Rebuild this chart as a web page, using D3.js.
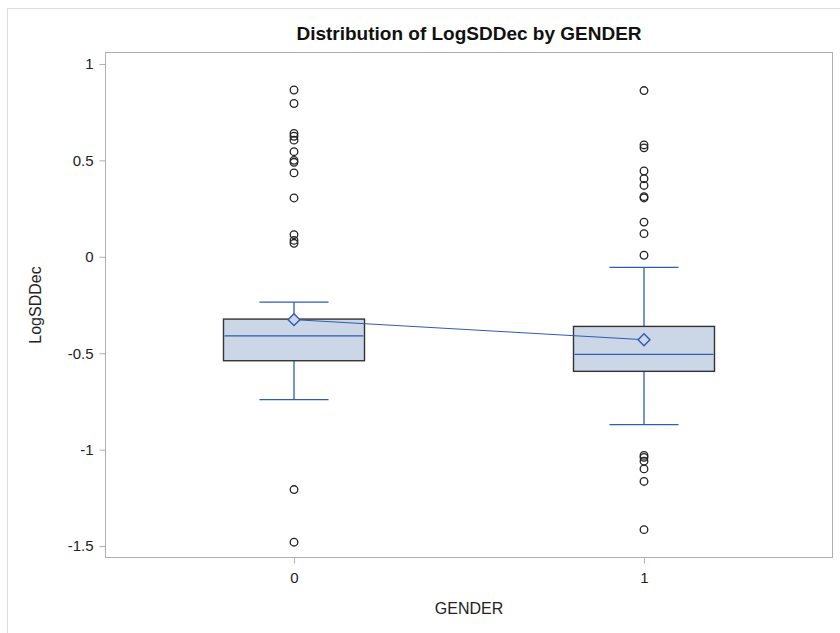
<!DOCTYPE html>
<html><head><meta charset="utf-8">
<script src="https://cdn.jsdelivr.net/npm/d3@7"></script>
<style>body{margin:0;background:#fff}svg{display:block}text{font-family:"Liberation Sans",Arial,sans-serif}</style>
</head><body><svg id="c" width="840" height="633"></svg>
<script>
const categories = ["0", "1"];
const q1 = [-0.539, -0.594];
const median = [-0.41, -0.506];
const q3 = [-0.323, -0.361];
const whiskerLow = [-0.741, -0.87];
const whiskerHigh = [-0.235, -0.055];
const means = [-0.326, -0.43];
const outliers0 = [0.865, 0.795, 0.64, 0.625, 0.605, 0.545, 0.50, 0.49, 0.435, 0.305, 0.115, 0.085, 0.07, -1.207, -1.48];
const outliers1 = [0.862, 0.58, 0.565, 0.445, 0.405, 0.37, 0.312, 0.305, 0.18, 0.12, 0.008, -1.03, -1.04, -1.06, -1.10, -1.165, -1.415];
const outliers = [outliers0, outliers1];
const yTicks = [1, 0.5, 0, -0.5, -1, -1.5];
const yTickLabels = ["1", "0.5", "0", "-0.5", "-1", "-1.5"];

const svg = d3.select("#c");
const L = 105, R = 833, T = 52, B = 558;
const x = d3.scalePoint().domain(categories).range([L, R]).padding(0.54);
const y = d3.scaleLinear().domain([-1.562, 1.062]).range([B, T]);
const blue = "#2F5BB3";

// outer frame
svg.append("rect").attr("x", 7.5).attr("y", 8.5).attr("width", 840).attr("height", 640)
  .attr("fill", "none").attr("stroke", "#dcdce4").attr("stroke-width", 1);

// plot frame
svg.append("rect").attr("x", L + 0.5).attr("y", T + 0.5).attr("width", R - L - 1).attr("height", B - T - 1)
  .attr("fill", "none").attr("stroke", "#b0b0b0").attr("stroke-width", 1);

// axes
const yAxis = d3.axisLeft(y).tickValues(yTicks).tickFormat((d, i) => yTickLabels[i]).tickSize(6).tickPadding(6);
const gy = svg.append("g").attr("transform", `translate(${L + 0.5},0)`).call(yAxis);
const xAxis = d3.axisBottom(x).tickSize(6).tickPadding(9);
const gx = svg.append("g").attr("transform", `translate(0,${B - 0.5})`).call(xAxis);
[gy, gx].forEach(g => {
  g.select(".domain").remove();
  g.selectAll(".tick line").attr("stroke", "#b0b0b0");
  g.selectAll(".tick text").attr("fill", "#222").style("font-size", "15px").style("font-family", '"Liberation Sans",Arial,sans-serif');
});

const bw = 141, cw = 69;
categories.forEach((c, i) => {
  const cx = x(c);
  const g = svg.append("g");
  g.append("line").attr("x1", cx).attr("x2", cx).attr("y1", y(q3[i])).attr("y2", y(whiskerHigh[i])).attr("stroke", blue).attr("stroke-width", 1.3);
  g.append("line").attr("x1", cx).attr("x2", cx).attr("y1", y(q1[i])).attr("y2", y(whiskerLow[i])).attr("stroke", blue).attr("stroke-width", 1.3);
  g.append("line").attr("x1", cx - cw / 2).attr("x2", cx + cw / 2).attr("y1", y(whiskerHigh[i])).attr("y2", y(whiskerHigh[i])).attr("stroke", blue).attr("stroke-width", 1.3);
  g.append("line").attr("x1", cx - cw / 2).attr("x2", cx + cw / 2).attr("y1", y(whiskerLow[i])).attr("y2", y(whiskerLow[i])).attr("stroke", blue).attr("stroke-width", 1.3);
  g.append("rect").attr("x", cx - bw / 2).attr("y", y(q3[i])).attr("width", bw).attr("height", y(q1[i]) - y(q3[i]))
    .attr("fill", "#CBD6E6").attr("stroke", "#333").attr("stroke-width", 1.4);
  g.append("line").attr("x1", cx - bw / 2 + 1).attr("x2", cx + bw / 2 - 1).attr("y1", y(median[i])).attr("y2", y(median[i])).attr("stroke", blue).attr("stroke-width", 1.4);
  g.selectAll("circle").data(outliers[i]).join("circle")
    .attr("cx", cx).attr("cy", d => y(d)).attr("r", 3.8)
    .attr("fill", "none").attr("stroke", "#222").attr("stroke-width", 1.3);
});

svg.append("path").datum(means).attr("d", d3.line().x((d, i) => x(categories[i])).y(d => y(d)))
  .attr("fill", "none").attr("stroke", blue).attr("stroke-width", 1);
svg.selectAll(".mean").data(means).join("path").attr("class", "mean")
  .attr("d", d3.symbol().type(d3.symbolDiamond2).size(90))
  .attr("transform", (d, i) => `translate(${x(categories[i])},${y(d)})`)
  .attr("fill", "#CBD6E6").attr("stroke", blue).attr("stroke-width", 1.4);

svg.append("text").attr("x", (L + R) / 2).attr("y", 40).attr("text-anchor", "middle")
  .style("font-size", "19px").style("font-weight", "bold").attr("fill", "#111").text("Distribution of LogSDDec by GENDER");
svg.append("text").attr("x", (L + R) / 2).attr("y", 614).attr("text-anchor", "middle")
  .style("font-size", "16px").attr("fill", "#222").text("GENDER");
svg.append("text").attr("transform", `translate(41,${(T + B) / 2}) rotate(-90)`).attr("text-anchor", "middle")
  .style("font-size", "16px").attr("fill", "#222").text("LogSDDec");
</script></body></html>
